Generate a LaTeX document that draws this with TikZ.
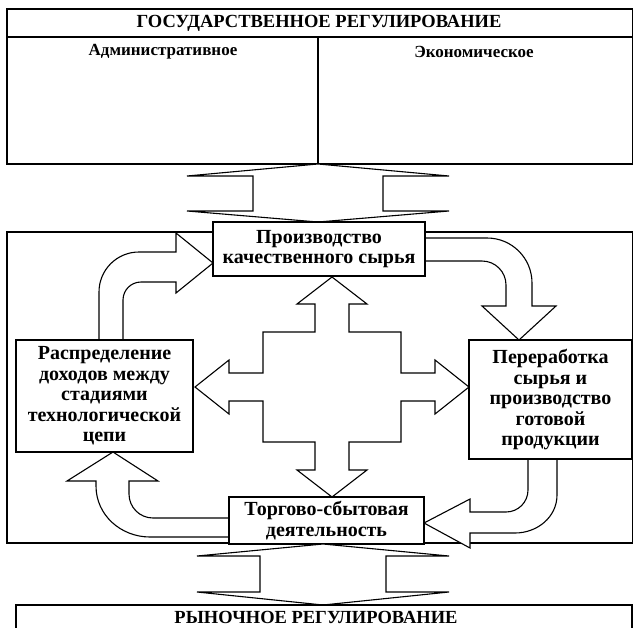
\documentclass[tikz,border=0pt]{standalone}
\usepackage{fontspec}
\setmainfont{Liberation Serif}
\begin{document}
\begin{tikzpicture}[x=1pt,y=-1pt,line width=1.1pt,
  blok/.style={draw,fill=white,align=center,inner sep=0pt,
    font=\bfseries\fontsize{20}{20.5}\selectfont},
  zagl/.style={inner sep=0pt,font=\bfseries\fontsize{18.5}{21}\selectfont},
  podzagl/.style={inner sep=0pt,font=\bfseries\fontsize{17}{18}\selectfont},
  strelka/.style={draw,fill=white,line join=miter}]
  \useasboundingbox (0,0) rectangle (634,627);

  \coordinate (g1) at (7,9);
  \coordinate (g2) at (632.5,164);
  \coordinate (r1) at (7,232);
  \coordinate (r2) at (632.5,543);

  \draw (g1) rectangle (g2);
  \draw (7,37) -- (632.5,37);
  \draw (318,37) -- (318,164);
  \node[zagl] (gos) at (319,23) {ГОСУДАРСТВЕННОЕ РЕГУЛИРОВАНИЕ};
  \node[podzagl] (adm) at (163,52) {Административное};
  \node[podzagl] (ekon) at (474,52) {Экономическое};

  \draw[strelka] (318,164) -- (449,176) -- (383,176) -- (383,211) -- (449,211)
    -- (318,222) -- (187,211) -- (253,211) -- (253,176) -- (187,176) -- cycle;

  \draw (r1) rectangle (r2);

  \draw[strelka] (99,340) -- (99,292) to[out=90,in=180] (139,252) -- (176,252)
    -- (176,233) -- (213,263) -- (176,293) -- (176,282) -- (141,282)
    to[out=180,in=90] (123,300) -- (123,340);
  \draw[strelka] (425,238) -- (487,238) to[out=0,in=90] (532,283) -- (532,306)
    -- (556,306) -- (519,340) -- (482,306) -- (506,306) -- (506,285)
    to[out=90,in=0] (482,261) -- (425,261);
  \draw[strelka] (528,459) -- (528,490) to[out=270,in=0] (506,512) -- (470,512)
    -- (470,499) -- (424,523) -- (470,548) -- (470,533) -- (515,533)
    to[out=0,in=270] (557,495) -- (557,459);
  \draw[strelka] (229,518) -- (153,518) to[out=180,in=270] (129,494) -- (129,481)
    -- (158,481) -- (113,452) -- (67,481) -- (96,481) -- (96,486)
    to[out=270,in=180] (150,537) -- (229,537);

  \draw[strelka,shift={(332,387)}] (0,-110) -- (35,-83) -- (17,-83) -- (17,-55)
    -- (69,-55) -- (69,-14) -- (103,-14) -- (103,-27) -- (137,0) -- (103,27)
    -- (103,14) -- (69,14) -- (69,55) -- (17,55) -- (17,83) -- (35,83)
    -- (0,110) -- (-35,83) -- (-17,83) -- (-17,55) -- (-69,55) -- (-69,14)
    -- (-103,14) -- (-103,27) -- (-137,0) -- (-103,-27) -- (-103,-14)
    -- (-69,-14) -- (-69,-55) -- (-17,-55) -- (-17,-83) -- (-35,-83) -- cycle;

  \node[blok,minimum width=212pt,minimum height=54pt] (syrje) at (319,249)
    {Производство\\качественного сырья};
  \node[blok,minimum width=177pt,minimum height=112pt] (raspr) at (104.5,396)
    {Распределение\\доходов между\\стадиями\\технологической\\цепи};
  \node[blok,minimum width=163pt,minimum height=119pt] (pererab) at (550.5,399.5)
    {Переработка\\сырья и\\производство\\готовой\\продукции};
  \node[blok,minimum width=195pt,minimum height=47pt] (torg) at (326.5,520.5)
    {Торгово-сбытовая\\деятельность};

  \draw[strelka] (323,544) -- (449,556) -- (386,556) -- (386,592) -- (449,592)
    -- (323,605) -- (197,592) -- (260,592) -- (260,556) -- (197,556) -- cycle;

  \draw (16,605) rectangle (632,640);
  \node[zagl] (rynok) at (316,617) {РЫНОЧНОЕ РЕГУЛИРОВАНИЕ};
\end{tikzpicture}
\end{document}
